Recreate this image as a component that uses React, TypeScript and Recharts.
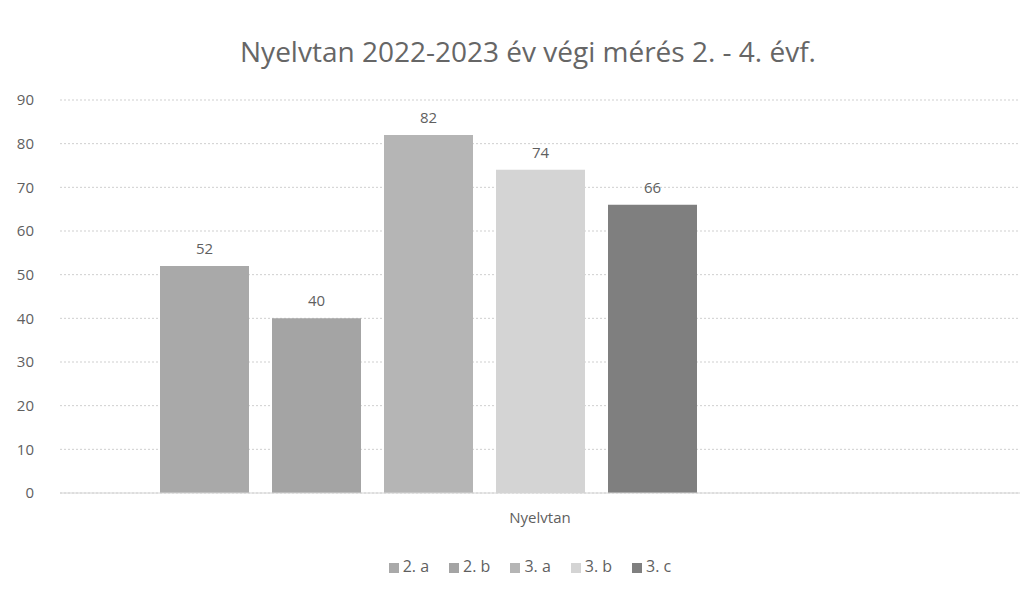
import { Bar, BarChart, CartesianGrid, LabelList, Legend, XAxis, YAxis } from "recharts"

const categories = ["Nyelvtan"]
const seriesNames = ["2. a", "2. b", "3. a", "3. b", "3. c", "4. a", "4. b"]
const seriesValues: (number | null)[] = [52, 40, 82, 74, 66, null, null]
const seriesColors = ["#a9a9a9", "#a4a4a4", "#b5b5b5", "#d4d4d4", "#7f7f7f", "#c8c8c8", "#9a9a9a"]
const yTicks = [0, 10, 20, 30, 40, 50, 60, 70, 80, 90]

const data = categories.map((cat) => {
  const row: Record<string, string | number | null> = { name: cat }
  seriesNames.forEach((s, i) => {
    row[s] = seriesValues[i]
  })
  return row
})

const textColor = "#5f5f5f"
const font = "'Open Sans', sans-serif"

export default function App() {
  return (
    <div style={{ position: "absolute", left: 0, top: 0, width: 1032, height: 595, background: "#fff", fontFamily: font }}>
      <div
        style={{
          position: "absolute",
          top: 32,
          left: 0,
          width: 1056,
          textAlign: "center",
          fontSize: 28,
          color: "#666",
        }}
      >
        Nyelvtan 2022-2023 év végi mérés 2. - 4. évf.
      </div>
      <BarChart
        width={1032}
        height={595}
        data={data}
        margin={{ top: 100, right: 12, left: 0, bottom: 16 }}
        barSize={89}
        barGap={23}
      >
        <CartesianGrid vertical={false} stroke="#cfcfcf" strokeDasharray="2 2" />
        <XAxis
          dataKey="name"
          axisLine={{ stroke: "#d4d4d4" }}
          tickLine={false}
          tickSize={0}
          tickMargin={19}
          height={62}
          tick={{ fill: textColor, fontSize: 15, fontFamily: font }}
        />
        <YAxis
          domain={[0, 90]}
          ticks={yTicks}
          width={60}
          axisLine={false}
          tickLine={false}
          tickSize={0}
          tickMargin={26}
          tick={{ fill: textColor, fontSize: 15, fontFamily: font }}
        />
        <Legend
          verticalAlign="bottom"
          height={24}
          iconType="square"
          iconSize={10}
          wrapperStyle={{ fontSize: 16, color: textColor, fontFamily: font, left: 30 }}
          formatter={(value: string) => <span style={{ color: textColor, marginRight: 10 }}>{value}</span>}
        />
        {seriesNames.map((s, i) => (
          <Bar
            key={s}
            dataKey={s}
            fill={seriesColors[i]}
            isAnimationActive={false}
            legendType={seriesValues[i] === null ? "none" : "square"}
          >
            <LabelList dataKey={s} position="top" offset={12} fill={textColor} fontSize={15} fontFamily={font} />
          </Bar>
        ))}
      </BarChart>
    </div>
  )
}
